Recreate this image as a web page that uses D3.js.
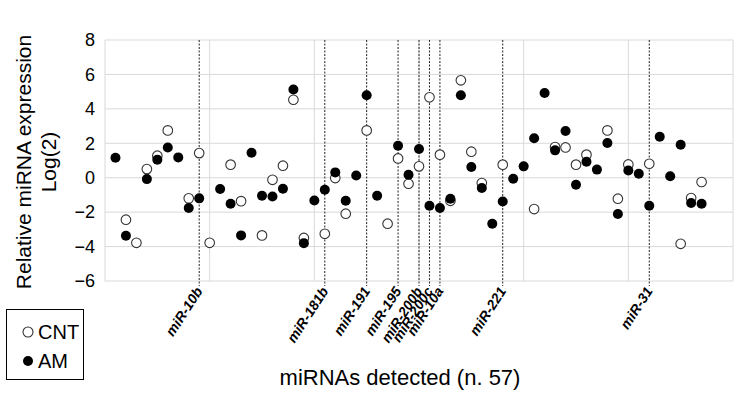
<!DOCTYPE html>
<html>
<head>
<meta charset="utf-8">
<script src="https://cdn.jsdelivr.net/npm/d3@7"></script>
<style>
  body { margin: 0; background: #fff; }
  text { font-family: "Liberation Sans", Arial, sans-serif; }
</style>
</head>
<body>
<div id="chart"></div>
<script>
// values, miRNA 1..57 (null = not visible)
var cnt = [null, -2.44, -3.78, 0.5, 1.28, 2.75, null, -1.2, 1.43, -3.78,
  null, 0.76, -1.36, null, -3.35, -0.12, 0.7, 4.53, -3.5, null,
  -3.26, -0.02, -2.09, null, 2.75, null, -2.67, 1.12, -0.35, 0.66,
  4.67, 1.34, -1.34, 5.66, 1.51, -0.31, null, 0.76, null, null,
  -1.82, null, 1.78, 1.76, 0.76, 1.34, null, 2.75, -1.22, 0.77,
  null, 0.81, null, null, -3.84, -1.18, -0.25];
var am = [1.16, -3.37, null, -0.08, 1.05, 1.76, 1.18, -1.76, -1.2, null,
  -0.66, -1.51, -3.35, 1.45, -1.05, -1.09, -0.64, 5.12, -3.8, -1.32,
  -0.7, 0.31, -1.34, 0.13, 4.79, -1.05, null, 1.86, 0.17, 1.67,
  -1.63, -1.76, -1.22, 4.79, 0.62, -0.6, -2.67, -1.38, -0.06, 0.66,
  2.29, 4.92, 1.59, 2.71, -0.41, 0.93, 0.47, 2.02, -2.11, 0.42,
  0.23, -1.63, 2.38, 0.08, 1.92, -1.47, -1.51];
var markedNames = ["miR-10b", "miR-181b", "miR-191", "miR-195", "miR-200b", "miR-200c", "miR-10a", "miR-221", "miR-31"];
var markedIndex = [9, 21, 25, 28, 30, 31, 32, 38, 52];
var yTicks = [-6, -4, -2, 0, 2, 4, 6, 8];
var xGrid = [0, 10, 20, 30, 40, 50, 60];

var margin = {top: 40, right: 10, bottom: 116, left: 105},
    width = 743 - margin.left - margin.right,
    height = 397 - margin.top - margin.bottom;

var svg = d3.select("#chart")
  .append("svg")
    .attr("width", 743)
    .attr("height", 397)
  .append("g")
    .attr("transform", "translate(" + margin.left + "," + margin.top + ")");

var x = d3.scaleLinear().domain([0, 60]).range([0, width]);
var y = d3.scaleLinear().domain([-6, 8]).range([height, 0]);

// grid
svg.selectAll(".hgrid").data(yTicks).enter().append("line")
  .attr("x1", 0).attr("x2", width)
  .attr("y1", function(d) { return y(d); }).attr("y2", function(d) { return y(d); })
  .style("stroke", "#d9d9d9").style("stroke-width", 1);
svg.selectAll(".vgrid").data(xGrid).enter().append("line")
  .attr("x1", function(d) { return x(d); }).attr("x2", function(d) { return x(d); })
  .attr("y1", 0).attr("y2", height)
  .style("stroke", "#d9d9d9").style("stroke-width", 1);

// y axis labels
var yAxis = svg.append("g")
  .call(d3.axisLeft(y).tickValues(yTicks).tickSize(0).tickPadding(10));
yAxis.select(".domain").remove();
yAxis.selectAll("text").style("font-size", "18px").style("fill", "#000")
  .attr("font-family", "Liberation Sans, Arial, sans-serif");

// dashed marker lines + labels
svg.selectAll(".mark").data(markedIndex).enter().append("line")
  .attr("x1", function(d) { return x(d); }).attr("x2", function(d) { return x(d); })
  .attr("y1", 0).attr("y2", height + 5)
  .style("stroke", "#222").style("stroke-width", 1).style("stroke-dasharray", "2,1.5");
svg.selectAll(".mlab").data(markedIndex).enter().append("text")
  .attr("transform", function(d) { return "translate(" + (x(d) + 4) + "," + (height + 10) + ") rotate(-57)"; })
  .attr("text-anchor", "end")
  .style("font-size", "14px").style("font-weight", "bold").style("font-style", "italic")
  .text(function(d, i) { return markedNames[i]; });

// points: CNT first (open), AM on top (filled)
var idx = d3.range(1, 58);
svg.selectAll(".cnt").data(idx.filter(function(i) { return cnt[i - 1] !== null; })).enter().append("circle")
  .attr("cx", function(i) { return x(i); })
  .attr("cy", function(i) { return y(cnt[i - 1]); })
  .attr("r", 4.8)
  .style("fill", "#fff").style("stroke", "#333").style("stroke-width", 1.1);
svg.selectAll(".am").data(idx.filter(function(i) { return am[i - 1] !== null; })).enter().append("circle")
  .attr("cx", function(i) { return x(i); })
  .attr("cy", function(i) { return y(am[i - 1]); })
  .attr("r", 5)
  .style("fill", "#000");

// axis titles
var root = d3.select("svg");
root.append("text")
  .attr("transform", "translate(31,162) rotate(-90)")
  .attr("text-anchor", "middle")
  .style("font-size", "21px")
  .text("Relative miRNA expression");
root.append("text")
  .attr("transform", "translate(56,162) rotate(-90)")
  .attr("text-anchor", "middle")
  .style("font-size", "21px")
  .text("Log(2)");
root.append("text")
  .attr("x", 400).attr("y", 385)
  .attr("text-anchor", "middle")
  .style("font-size", "22px")
  .text("miRNAs detected (n. 57)");

// legend
var leg = root.append("g");
leg.append("rect").attr("x", 6.5).attr("y", 309.5).attr("width", 77).attr("height", 70)
  .style("fill", "#fff").style("stroke", "#000").style("stroke-width", 1);
leg.append("circle").attr("cx", 28).attr("cy", 332).attr("r", 5)
  .style("fill", "#fff").style("stroke", "#333").style("stroke-width", 1.1);
leg.append("circle").attr("cx", 28).attr("cy", 361).attr("r", 5).style("fill", "#000");
leg.append("text").attr("x", 38).attr("y", 339).style("font-size", "20px").text("CNT");
leg.append("text").attr("x", 38).attr("y", 368).style("font-size", "20px").text("AM");
</script>
</body>
</html>
